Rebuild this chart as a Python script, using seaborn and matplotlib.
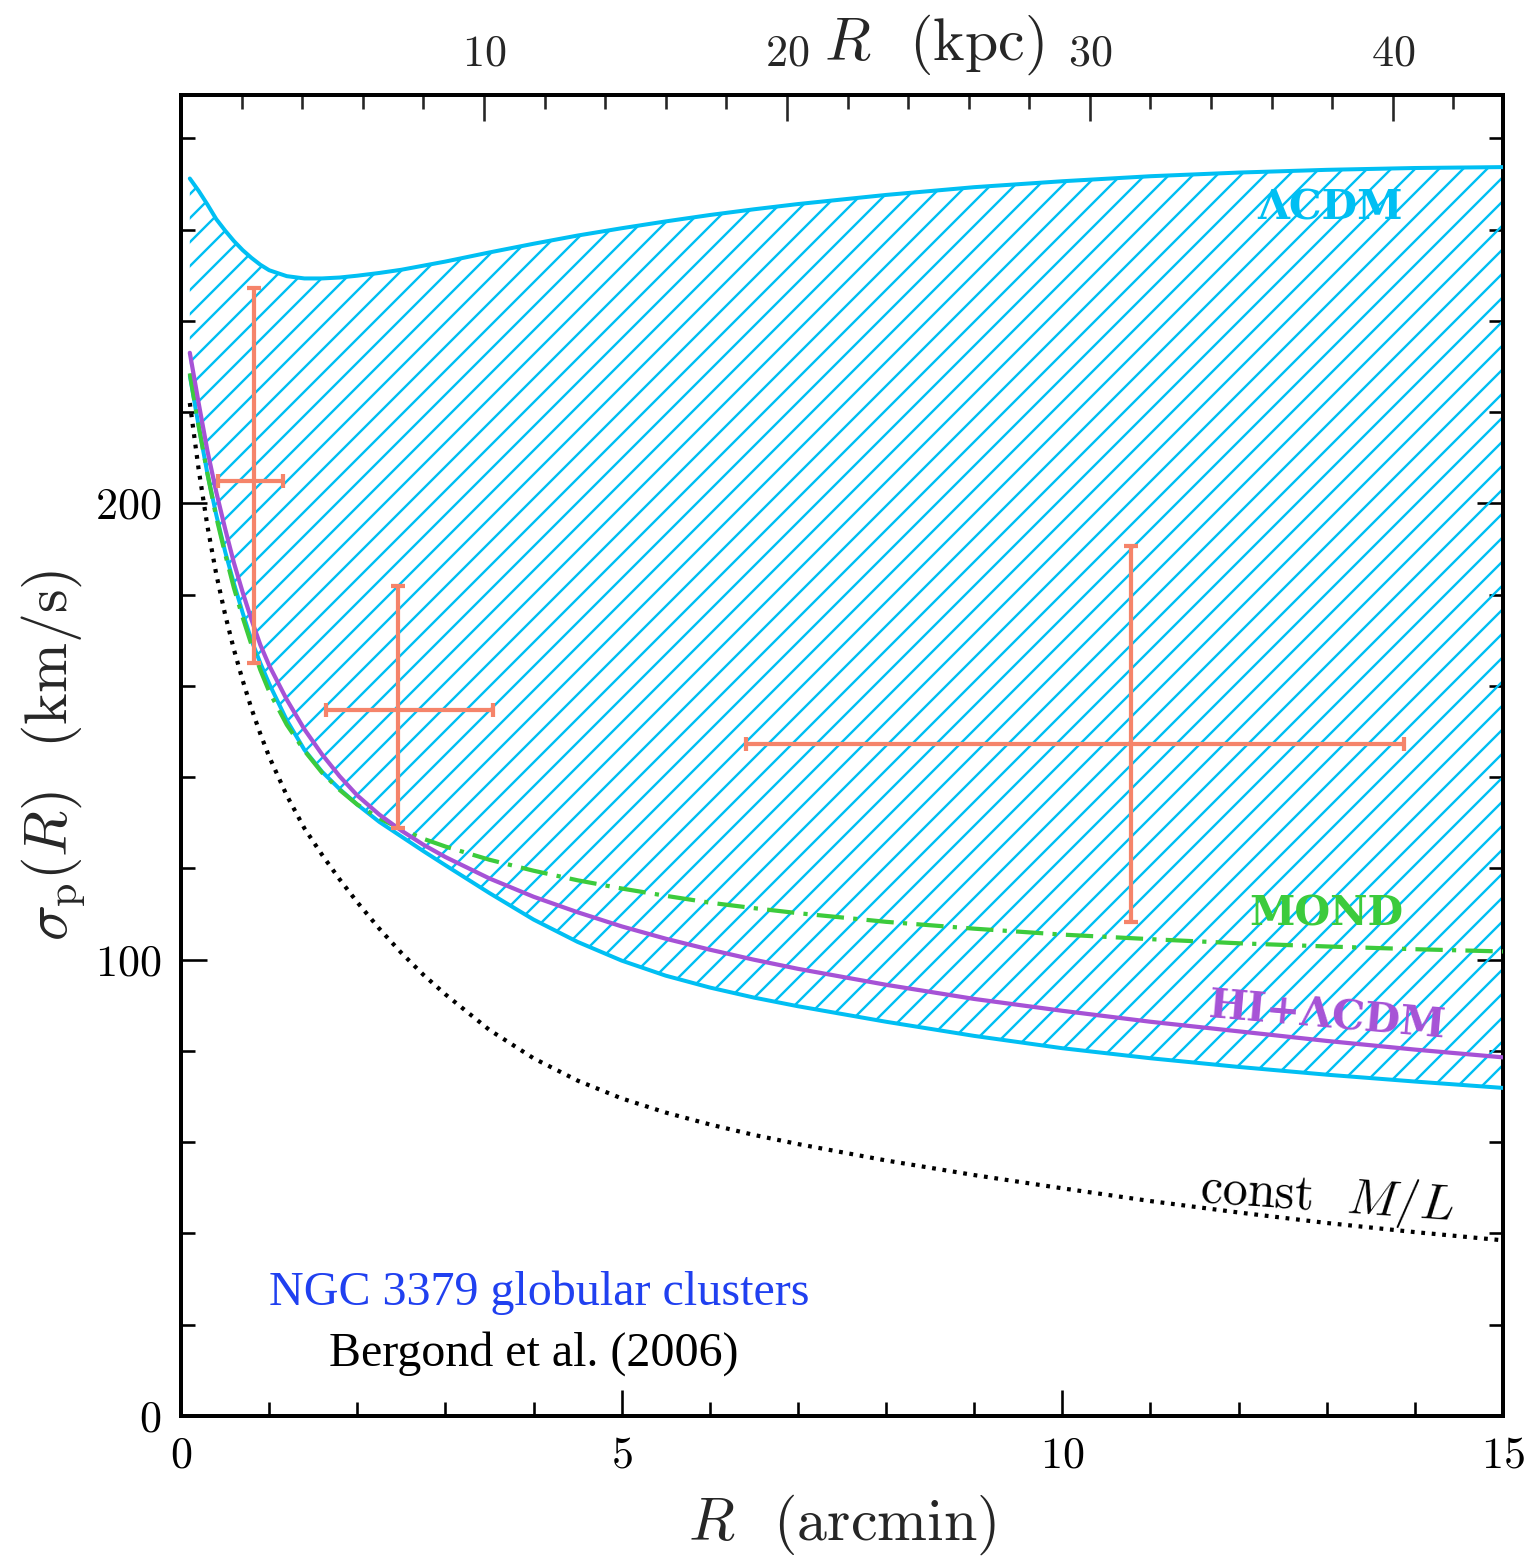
import matplotlib
matplotlib.use("Agg")
import matplotlib.pyplot as plt
from matplotlib.ticker import FixedLocator, MultipleLocator
import numpy as np
import seaborn as sns

# --- Dados: R em arcmin, sigma_p em km/s ---
# grade de R usada para as curvas lidas
r_curva = [0.1, 0.2, 0.3, 0.4, 0.5, 0.6, 0.7, 0.8, 0.9, 1.0, 1.2, 1.4, 1.6, 1.8, 2.0,
           2.25, 2.5, 2.75, 3.0, 3.5, 4.0, 4.5, 5.0, 5.5, 6.0, 6.5, 7.0, 8.0, 9.0, 10.0,
           11.0, 12.0, 13.0, 14.0, 15.0]

lcdm_sup = [271.2, 268.5, 265.5, 262.3, 259.8, 257.5, 255.5, 253.8, 252.3, 251.1, 249.8,
            249.3, 249.3, 249.5, 249.9, 250.5, 251.2, 252.1, 253.0, 255.0, 256.9, 258.7,
            260.3, 261.8, 263.2, 264.45, 265.6, 267.6, 269.3, 270.6, 271.7, 272.5, 273.1,
            273.5, 273.7]

lcdm_inf = [228.0, 217.0, 206.5, 197.5, 189.5, 182.5, 176.0, 170.0, 165.0, 160.5, 152.5,
            146.0, 141.2, 137.4, 134.0, 130.2, 127.0, 123.8, 120.7, 114.6, 108.8, 103.9,
            99.8, 96.5, 93.9, 91.7, 89.8, 86.4, 83.3, 80.6, 78.4, 76.5, 74.8, 73.3, 71.9]

hi_lcdm = [233.0, 222.0, 211.5, 202.5, 194.5, 187.0, 180.5, 174.5, 169.0, 164.5, 157.0,
           150.5, 145.0, 140.2, 136.0, 131.8, 128.3, 125.2, 122.5, 117.8, 113.8, 110.4,
           107.3, 104.6, 102.2, 100.0, 98.0, 94.5, 91.4, 88.8, 86.4, 84.3, 82.2, 80.3, 78.6]

mond = [228.5, 217.0, 206.5, 197.0, 189.0, 181.5, 175.0, 169.0, 163.5, 158.8, 151.5,
        145.8, 141.0, 137.2, 134.0, 131.0, 128.6, 126.5, 124.8, 121.9, 119.5, 117.4,
        115.6, 114.0, 112.5, 111.3, 110.2, 108.3, 106.8, 105.5, 104.5, 103.6, 102.9,
        102.3, 101.8]

ml_const = [222.0, 207.5, 195.0, 184.5, 175.7, 168.0, 161.2, 155.0, 149.5, 144.5, 136.0,
            128.8, 123.0, 117.6, 112.6, 106.8, 101.5, 96.7, 92.4, 84.6, 78.4, 73.5,
            69.6, 66.5, 63.9, 61.6, 59.6, 56.0, 52.8, 49.9, 47.1, 44.6, 42.3, 40.3, 38.5]

# aglomerados globulares (Bergond et al. 2006)
gc_r = [0.83, 2.46, 10.78]
gc_r_min = [0.42, 1.65, 6.41]
gc_r_max = [1.16, 3.54, 13.88]
gc_s = [205.0, 154.7, 147.2]
gc_s_min = [165.0, 128.8, 108.2]
gc_s_max = [247.3, 182.0, 190.6]

KPC_POR_ARCMIN = 2.909

ciano = "#00BFF3"
roxo = "#A652D6"
verde = "#3CCB3C"
salmao = "#F5846A"

sns.set_theme(style="ticks")
plt.rcParams["font.family"] = "cmr10"
plt.rcParams["mathtext.fontset"] = "cm"
plt.rcParams["axes.formatter.use_mathtext"] = True
plt.rcParams["hatch.linewidth"] = 1.2
plt.rcParams["hatch.color"] = ciano
plt.rcParams["lines.solid_joinstyle"] = "round"

fig = plt.figure(figsize=(1536 / 144, 1562 / 144), dpi=144)
ax = fig.add_axes([181 / 1536, 1 - 1416 / 1562, (1503 - 181) / 1536, (1416 - 95) / 1562])

# faixa LCDM hachurada
poly_x = np.r_[r_curva, r_curva[::-1]]
poly_y = np.r_[lcdm_sup, lcdm_inf[::-1]]
ax.fill(poly_x, poly_y, facecolor="none", edgecolor=ciano, hatch="//", linewidth=0, zorder=1)

sns.lineplot(x=r_curva, y=lcdm_sup, ax=ax, color=ciano, linewidth=2.0, errorbar=None, zorder=3)
sns.lineplot(x=r_curva, y=lcdm_inf, ax=ax, color=ciano, linewidth=2.0, errorbar=None, zorder=3)
sns.lineplot(x=r_curva, y=ml_const, ax=ax, color="black", linewidth=2.1,
             linestyle=(0, (0.9, 1.6)), errorbar=None, zorder=3)
sns.lineplot(x=r_curva, y=mond, ax=ax, color=verde, linewidth=2.1,
             linestyle=(0, (6.5, 2.2, 1, 2.2)), errorbar=None, zorder=4)
sns.lineplot(x=r_curva, y=hi_lcdm, ax=ax, color=roxo, linewidth=2.1, errorbar=None, zorder=4)

gc_r = np.array(gc_r)
gc_s = np.array(gc_s)
xerr = [gc_r - np.array(gc_r_min), np.array(gc_r_max) - gc_r]
yerr = [gc_s - np.array(gc_s_min), np.array(gc_s_max) - gc_s]
ax.errorbar(gc_r, gc_s, xerr=xerr, yerr=yerr, fmt="none", ecolor=salmao,
            elinewidth=2.1, capsize=3.5, capthick=2.1, zorder=6)

# rótulos das curvas
rot_kw = dict(family="DejaVu Serif", weight="bold", fontsize=20.5, ha="center", va="center")
ax.text(13.04, 264.6, "ΛCDM", color=ciano, **rot_kw)
ax.text(13.0, 109.8, "MOND", color=verde, **rot_kw)
ax.text(13.0, 87.5, "HI+ΛCDM", color=roxo, rotation=-5, **rot_kw)
ax.text(13.0, 47.8, r"const  $M/L$", color="black", fontsize=25, rotation=-4,
        ha="center", va="center")

ax.text(1.0, 27.0, "NGC 3379 globular clusters", color="#2040F0",
        family="Liberation Serif", fontsize=24, ha="left", va="center")
ax.text(1.68, 13.6, "Bergond et al. (2006)", color="black",
        family="Liberation Serif", fontsize=24, ha="left", va="center")

ax.set_xlim(0, 15)
ax.set_ylim(0, 289.5)
ax.xaxis.set_major_locator(FixedLocator([0, 5, 10, 15]))
ax.xaxis.set_minor_locator(MultipleLocator(1))
ax.yaxis.set_major_locator(FixedLocator([0, 100, 200]))
ax.yaxis.set_minor_locator(MultipleLocator(20))
ax.tick_params(which="both", direction="in", top=False, right=True, width=1.3,
               labelsize=22, pad=10, colors="black")
ax.tick_params(which="major", length=13)
ax.tick_params(which="minor", length=7)
for s in ax.spines.values():
    s.set_linewidth(2.0)
    s.set_color("black")

ax.set_xlabel(r"$R$  (arcmin)", fontsize=30, labelpad=8)
ax.set_ylabel(r"$\sigma_{\rm p}(R)$  (km/s)", fontsize=30, labelpad=4)

# eixo superior em kpc
sec = ax.secondary_xaxis("top", functions=(lambda a: a * KPC_POR_ARCMIN,
                                           lambda k: k / KPC_POR_ARCMIN))
sec.xaxis.set_major_locator(FixedLocator([10, 20, 30, 40]))
sec.xaxis.set_minor_locator(MultipleLocator(2))
sec.tick_params(which="both", direction="in", width=1.3, labelsize=22, pad=10)
sec.tick_params(which="major", length=13)
sec.tick_params(which="minor", length=7)
sec.spines["top"].set_linewidth(2.0)
fig.text(934 / 1536, 1 - 45 / 1562, r"$R$  (kpc)", fontsize=30, ha="center", va="center")

fig.savefig("out.png", dpi=144, facecolor="white")
